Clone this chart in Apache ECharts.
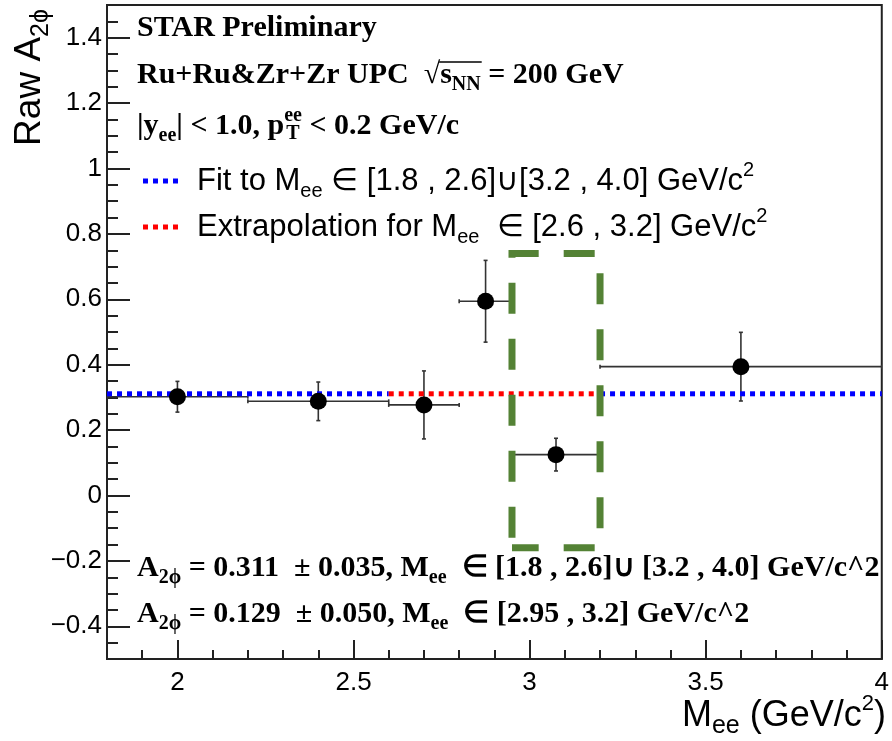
<!DOCTYPE html>
<html lang="en">
<head>
    <meta charset="UTF-8"/>
    <title>raw A2phi vs Mee</title>
    <script src="https://cdn.jsdelivr.net/npm/echarts@6/dist/echarts.min.js"></script>
    <style>
        html, body { margin: 0; padding: 0; background: #fff; }
    </style>
</head>
<body>

<div id="main" style="width: 892px;height:741px;"></div>

<script type="text/javascript">
    // measured points: bin centre, bin edges, value, error
    var massCenters = [2.0, 2.4, 2.7, 2.875, 3.075, 3.6];
    var massLow = [1.8, 2.2, 2.6, 2.8, 2.95, 3.2];
    var massHigh = [2.2, 2.6, 2.8, 2.95, 3.2, 4.0];
    var a2phi = [0.302, 0.288, 0.277, 0.594, 0.125, 0.394];
    var a2phiErr = [0.047, 0.059, 0.104, 0.125, 0.050, 0.105];

    // fit / extrapolation
    var fitValue = 0.311;
    var fitRanges = [[1.8, 2.6], [3.2, 4.0]];
    var extrapRange = [2.6, 3.2];

    // highlighted window
    var boxX = [2.95, 3.2];
    var boxY = [-0.16, 0.74];

    // axes
    var xMajor = [2, 2.5, 3, 3.5, 4];
    var yMajor = [-0.4, -0.2, 0, 0.2, 0.4, 0.6, 0.8, 1, 1.2, 1.4];
    var xMinor = [];
    for (var i = 19; i <= 39; i++) { if (i % 5 !== 0) xMinor.push(i / 10); }
    var yMinor = [];
    for (var j = -9; j <= 29; j++) { if (j % 4 !== 0) yMinor.push(j / 20); }

    var myChart = echarts.init(document.getElementById('main'));

    var SANS = 'Liberation Sans';
    var SERIF = 'Liberation Serif';

    // text width helper, for placing the stacked sub/superscripts
    var ctx = document.createElement('canvas').getContext('2d');
    function tw(str, font) {
        ctx.font = font;
        return ctx.measureText(str).width;
    }
    var BIG = 'bold 30px "' + SERIF + '"';
    var SMALL = 'bold 20px "' + SERIF + '"';

    function fmt(v) {
        var s = String(Math.round(v * 10) / 10);
        return s.replace('-', '\u2212');
    }

    var tickLine = {color: '#222', width: 2};

    // rich styles
    var rich = {
        b: {fontFamily: SERIF, fontWeight: 'bold', fontSize: 30, lineHeight: 40, color: '#000', verticalAlign: 'middle'},
        bsub: {fontFamily: SERIF, fontWeight: 'bold', fontSize: 20, lineHeight: 20, color: '#000', verticalAlign: 'bottom'},
        bsup: {fontFamily: SERIF, fontWeight: 'bold', fontSize: 20, lineHeight: 20, color: '#000', verticalAlign: 'top'},
        s: {fontFamily: SANS, fontSize: 31, lineHeight: 41, color: '#000', verticalAlign: 'middle'},
        ssub: {fontFamily: SANS, fontSize: 20, lineHeight: 20, color: '#000', verticalAlign: 'bottom'},
        ssup: {fontFamily: SANS, fontSize: 20, lineHeight: 20, color: '#000', verticalAlign: 'top'},
        t: {fontFamily: SANS, fontSize: 36, lineHeight: 46, color: '#000', verticalAlign: 'middle'},
        tsub: {fontFamily: SANS, fontSize: 25, lineHeight: 25, color: '#000', verticalAlign: 'bottom'},
        tsup: {fontFamily: SANS, fontSize: 22, lineHeight: 22, color: '#000', verticalAlign: 'top'},
        y: {fontFamily: SANS, fontSize: 37, lineHeight: 48, color: '#000', verticalAlign: 'middle'},
        ysub: {fontFamily: SANS, fontSize: 25, lineHeight: 25, color: '#000', verticalAlign: 'bottom'}
    };

    function txt(x, y, text, align, rotation) {
        return {
            type: 'text', x: x, y: y, z: 100, rotation: rotation || 0,
            style: {text: text, rich: rich, align: align || 'left', verticalAlign: 'middle'}
        };
    }

    function errorBars(params, api) {
        var x = api.value(0), y = api.value(1), lo = api.value(2), hi = api.value(3), e = api.value(4);
        var l = api.coord([lo, y]), h = api.coord([hi, y]);
        var t = api.coord([x, y + e]), b = api.coord([x, y - e]);
        var st = {stroke: '#333', lineWidth: 1.6};
        return {
            type: 'group',
            children: [
                {type: 'line', shape: {x1: l[0], y1: l[1], x2: h[0], y2: h[1]}, style: st},
                {type: 'line', shape: {x1: t[0], y1: t[1], x2: b[0], y2: b[1]}, style: st},
                {type: 'line', shape: {x1: t[0] - 2, y1: t[1], x2: t[0] + 2, y2: t[1]}, style: st},
                {type: 'line', shape: {x1: b[0] - 2, y1: b[1], x2: b[0] + 2, y2: b[1]}, style: st},
                {type: 'line', shape: {x1: l[0], y1: l[1] - 2, x2: l[0], y2: l[1] + 2}, style: st},
                {type: 'line', shape: {x1: h[0], y1: h[1] - 2, x2: h[0], y2: h[1] + 2}, style: st}
            ]
        };
    }

    var errData = [], pts = [];
    for (var n = 0; n < massCenters.length; n++) {
        errData.push([massCenters[n], a2phi[n], massLow[n], massHigh[n], a2phiErr[n]]);
        pts.push([massCenters[n], a2phi[n]]);
    }

    var dotted = {width: 5, type: [5, 5], cap: 'butt'};

    // positions of the stacked p_T index and the root bar
    var pPrefix = tw('|y', BIG) + tw('ee', SMALL) + tw('| < 1.0, p', BIG);
    var rootStart = tw('Ru+Ru&Zr+Zr UPC  \u221A', BIG);
    var rootLen = tw('s', BIG) + tw('NN', SMALL);

    var option = {
        animation: false,
        grid: {
            left: 107, right: 6, top: 5, bottom: 82,
            show: true, borderColor: '#222', borderWidth: 2, backgroundColor: '#fff'
        },
        xAxis: [
            {
                type: 'value', min: 1.8, max: 4.0, position: 'bottom',
                axisLine: {show: true, onZero: false, lineStyle: tickLine},
                axisTick: {show: true, inside: true, length: 19, customValues: xMajor, lineStyle: tickLine},
                axisLabel: {
                    customValues: xMajor, fontFamily: SANS, fontSize: 26, color: '#000', margin: 11,
                    formatter: function (v) { return fmt(v).replace('.0', ''); }
                },
                splitLine: {show: false}
            },
            {
                type: 'value', min: 1.8, max: 4.0, position: 'bottom',
                axisLine: {show: false, onZero: false},
                axisTick: {show: true, inside: true, length: 9, customValues: xMinor, lineStyle: tickLine},
                axisLabel: {show: false},
                splitLine: {show: false}
            }
        ],
        yAxis: [
            {
                type: 'value', min: -0.5, max: 1.5, position: 'left',
                axisLine: {show: true, onZero: false, lineStyle: tickLine},
                axisTick: {show: true, inside: true, length: 23, customValues: yMajor, lineStyle: tickLine},
                axisLabel: {
                    customValues: yMajor, fontFamily: SANS, fontSize: 26, color: '#000', margin: 5,
                    formatter: function (v) { return fmt(v); }
                },
                splitLine: {show: false}
            },
            {
                type: 'value', min: -0.5, max: 1.5, position: 'left',
                axisLine: {show: false, onZero: false},
                axisTick: {show: true, inside: true, length: 11, customValues: yMinor, lineStyle: tickLine},
                axisLabel: {show: false},
                splitLine: {show: false}
            }
        ],
        series: [
            {
                name: 'errors', type: 'custom', renderItem: errorBars, data: errData,
                encode: {x: 0, y: 1}, z: 2, clip: true
            },
            {
                name: 'fit1', type: 'line', showSymbol: false, z: 3, silent: true,
                data: [[fitRanges[0][0], fitValue], [fitRanges[0][1], fitValue]],
                lineStyle: Object.assign({color: '#0000ff'}, dotted)
            },
            {
                name: 'fit2', type: 'line', showSymbol: false, z: 3, silent: true,
                data: [[fitRanges[1][0], fitValue], [fitRanges[1][1], fitValue]],
                lineStyle: Object.assign({color: '#0000ff'}, dotted)
            },
            {
                name: 'extrap', type: 'line', showSymbol: false, z: 3, silent: true,
                data: [[extrapRange[0], fitValue], [extrapRange[1], fitValue]],
                lineStyle: Object.assign({color: '#ff0000'}, dotted)
            },
            {
                name: 'window', type: 'line', showSymbol: false, z: 4, silent: true,
                data: [[boxX[0], boxY[0]], [boxX[0], boxY[1]], [boxX[1], boxY[1]], [boxX[1], boxY[0]], [boxX[0], boxY[0]]],
                lineStyle: {color: '#548235', width: 7, type: [31, 25], dashOffset: 46, cap: 'butt', join: 'miter'}
            },
            {
                name: 'points', type: 'scatter', symbol: 'circle', symbolSize: 17, z: 5,
                itemStyle: {color: '#000', opacity: 1}, data: pts
            }
        ],
        graphic: [
            // header
            txt(137, 28, '{b|STAR Preliminary}'),
            txt(137, 75, '{b|Ru+Ru&Zr+Zr UPC  \u221As}{bsub|NN}{b| = 200 GeV}'),
            {type: 'line', z: 100, shape: {x1: 137 + rootStart - 1, y1: 62, x2: 137 + rootStart + rootLen + 1, y2: 62},
                style: {stroke: '#000', lineWidth: 1.5}},
            txt(137, 126, '{b||y}{bsub|ee}{b|| < 1.0, p}{bsup|ee}{b| < 0.2 GeV/c}'),
            txt(137 + pPrefix + 2, 134, '{bsub|T}'),
            // legend
            {type: 'line', z: 100, shape: {x1: 143, y1: 181, x2: 181, y2: 181},
                style: {stroke: '#0000ff', lineWidth: 5, lineDash: [5, 5]}},
            txt(197, 181, '{s|Fit to M}{ssub|ee}{s| \u2208 [1.8 , 2.6]\u222A[3.2 , 4.0] GeV/c}{ssup|2}'),
            {type: 'line', z: 100, shape: {x1: 143, y1: 227, x2: 181, y2: 227},
                style: {stroke: '#ff0000', lineWidth: 5, lineDash: [5, 5]}},
            txt(197, 227, '{s|Extrapolation for M}{ssub|ee}{s|  \u2208 [2.6 , 3.2] GeV/c}{ssup|2}'),
            // results
            txt(137, 568, '{b|A}{bsub|2\u03D5}{b| = 0.311  \u00B1 0.035, M}{bsub|ee}{b|  \u2208 [1.8 , 2.6]\u222A [3.2 , 4.0] GeV/c^2}'),
            txt(137, 614, '{b|A}{bsub|2\u03D5}{b| = 0.129  \u00B1 0.050, M}{bsub|ee}{b|  \u2208 [2.95 , 3.2] GeV/c^2}'),
            // axis titles
            txt(886, 716, '{t|M}{tsub|ee}{t| (GeV/c}{tsup|2}{t|)}', 'right'),
            txt(30, 9, '{y|Raw A}{ysub|2\u03D5}', 'right', Math.PI / 2)
        ]
    };

    myChart.setOption(option);
</script>
</body>
</html>
